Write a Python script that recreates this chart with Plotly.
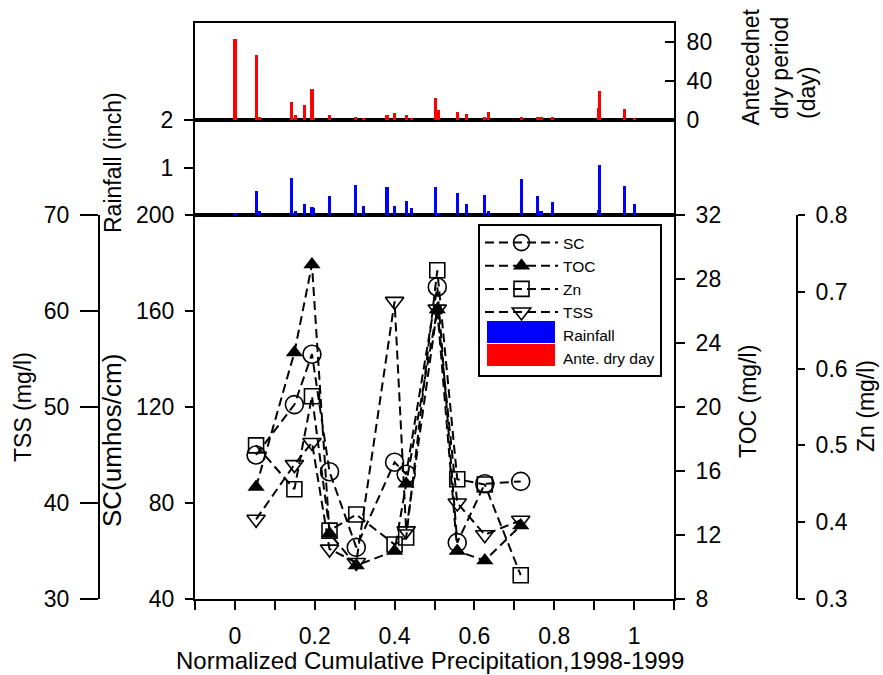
import plotly.graph_objects as go

# ---------------- data ----------------
# water-quality samples (x = normalized cumulative precipitation)
sample_x = [0.053, 0.149, 0.193, 0.237, 0.304, 0.400, 0.429, 0.507, 0.557, 0.626, 0.716]
sc_vals = [100, 121, 142, 93, 61.5, 97, 92, 170, 63.5, 88, 89]
toc_vals = [15.0, 23.4, 28.9, 12.1, 10.1, 11.0, 15.2, 26.1, 11.0, 10.4, 12.6]
zn_vals = [0.500, 0.443, 0.564, 0.389, 0.410, 0.371, 0.380, 0.728, 0.456, 0.449, 0.331]
tss_vals = [38.3, 44.0, 46.3, 35.2, 33.8, 61.0, 37.1, 60.2, 40.0, 36.7, 38.2]

# storm events
event_x = [0.000, 0.054, 0.062, 0.142, 0.151, 0.175, 0.193, 0.197, 0.237, 0.303, 0.322,
           0.381, 0.400, 0.429, 0.443, 0.503, 0.509, 0.557, 0.580, 0.625, 0.635,
           0.717, 0.759, 0.767, 0.796, 0.911, 0.914, 0.975, 1.001]
rain_vals = [0.03, 0.50, 0.09, 0.77, 0.08, 0.23, 0.17, 0.14, 0.39, 0.63, 0.19,
             0.59, 0.19, 0.29, 0.14, 0.59, 0.05, 0.46, 0.23, 0.43, 0.08,
             0.75, 0.41, 0.09, 0.28, 0.10, 1.06, 0.61, 0.24]
dry_vals = [84, 67, 3.5, 19, 5, 15, 32, 2, 5, 3, 2,
            5.5, 7, 5, 2, 23, 10, 8, 6.5, 3, 8,
            3, 3, 3, 3, 12, 30, 11.5, 2]

x_tick_vals = [-0.1, 0, 0.1, 0.2, 0.3, 0.4, 0.5, 0.6, 0.7, 0.8, 0.9, 1.0, 1.1]
x_tick_text = ["", "0", "", "0.2", "", "0.4", "", "0.6", "", "0.8", "", "1", ""]
sc_ticks = [40, 80, 120, 160, 200]
tss_ticks = [30, 40, 50, 60, 70]
toc_ticks = [8, 12, 16, 20, 24, 28, 32]
zn_ticks = [0.3, 0.4, 0.5, 0.6, 0.7, 0.8]
rain_ticks = [1, 2]
dry_ticks = [0, 40, 80]

# ---------------- layout helpers ----------------
W, H = 883, 675
def px(x):
    return x / W
def py(y):
    return 1 - y / H

FONT = "Liberation Sans, Arial, sans-serif"
TF = 23
LW = 2
RAIN_COLOR = "#0000ff"
DRY_COLOR = "#ff0000"

x_dom = [px(195), px(674)]
main_dom = [py(599), py(215)]
rain_dom = [py(215), py(120)]
dry_dom = [py(120), py(23)]

fig = go.Figure()

dash = "9px,5px"
common_line = dict(color="black", width=2, dash=dash)

fig.add_trace(go.Scatter(x=sample_x, y=sc_vals, name="SC", mode="lines+markers",
                         xaxis="x", yaxis="y", line=common_line,
                         marker=dict(symbol="circle-open", size=18, color="black",
                                     line=dict(width=1.6, color="black"))))
fig.add_trace(go.Scatter(x=sample_x, y=toc_vals, name="TOC", mode="lines+markers",
                         xaxis="x", yaxis="y3", line=common_line,
                         marker=dict(symbol="triangle-up", size=15, color="black")))
fig.add_trace(go.Scatter(x=sample_x, y=zn_vals, name="Zn", mode="lines+markers",
                         xaxis="x", yaxis="y4", line=common_line,
                         marker=dict(symbol="square-open", size=15, color="black",
                                     line=dict(width=1.6, color="black"))))
fig.add_trace(go.Scatter(x=sample_x, y=tss_vals, name="TSS", mode="lines+markers",
                         xaxis="x", yaxis="y2", line=common_line,
                         marker=dict(symbol="triangle-down-open", size=16, color="black",
                                     line=dict(width=1.6, color="black"))))

fig.add_trace(go.Bar(x=event_x, y=rain_vals, name="Rainfall", xaxis="x2", yaxis="y5",
                     width=0.008, marker=dict(color=RAIN_COLOR, line=dict(width=0))))
fig.add_trace(go.Bar(x=event_x, y=dry_vals, name="Ante. dry day", xaxis="x3", yaxis="y6",
                     width=0.008, marker=dict(color=DRY_COLOR, line=dict(width=0))))

axis_common = dict(showline=True, linecolor="black", linewidth=LW, ticks="outside",
                   tickcolor="black", tickwidth=LW, showgrid=False, zeroline=False,
                   tickfont=dict(family=FONT, size=TF, color="black"),
                   ticklabelstandoff=6, automargin=False)

fig.update_layout(
    width=W, height=H,
    margin=dict(l=0, r=0, t=0, b=0, pad=0, autoexpand=False),
    paper_bgcolor="white", plot_bgcolor="rgba(0,0,0,0)",
    showlegend=True,
    bargap=0,
    xaxis=dict(domain=x_dom, anchor="y", range=[-0.1, 1.1], tickvals=x_tick_vals,
               ticktext=x_tick_text, ticklen=9, mirror=True, **axis_common),
    xaxis2=dict(domain=x_dom, anchor="y5", matches="x", range=[-0.1, 1.1],
                showticklabels=False, ticks="", showline=True, mirror=True,
                linecolor="black", linewidth=LW, showgrid=False, zeroline=False),
    xaxis3=dict(domain=x_dom, anchor="y6", matches="x", range=[-0.1, 1.1],
                showticklabels=False, ticks="", showline=True, mirror=True,
                linecolor="black", linewidth=LW, showgrid=False, zeroline=False),
    yaxis=dict(domain=main_dom, anchor="x", range=[40, 200], tickvals=sc_ticks,
               ticklen=8, **axis_common),
    yaxis2=dict(overlaying="y", anchor="free", position=px(99), side="left",
                range=[30, 70], tickvals=tss_ticks, ticklen=18, **axis_common),
    yaxis3=dict(overlaying="y", anchor="x", side="right", range=[8, 32],
                tickvals=toc_ticks, ticklen=9, **axis_common),
    yaxis4=dict(overlaying="y", anchor="free", position=px(797), side="right",
                range=[0.3, 0.8], tickvals=zn_ticks, ticklen=7, **axis_common),
    yaxis5=dict(domain=rain_dom, anchor="x2", range=[0, 2], tickvals=rain_ticks,
                ticklen=9, mirror=True, **axis_common),
    yaxis6=dict(domain=dry_dom, anchor="x3", side="right", range=[0, 100],
                tickvals=dry_ticks, ticklen=9, mirror=True,
                **{**axis_common, "ticks": "inside"}),
    legend=dict(x=px(478), y=py(224), xanchor="left", yanchor="top",
                bgcolor="rgba(0,0,0,0)", bordercolor="black", borderwidth=2,
                font=dict(family=FONT, size=15.5, color="black"),
                traceorder="normal", itemwidth=73, tracegroupgap=0),
)

# wide colour swatches for the bar entries of the legend (legend decoration)
for (y0, y1, col) in [(321, 343, RAIN_COLOR), (344, 366, DRY_COLOR)]:
    fig.add_shape(type="rect", xref="paper", yref="paper",
                  x0=px(487), x1=px(555), y0=py(y1), y1=py(y0),
                  fillcolor=col, line=dict(width=0), layer="above")

def title(text, x, y, angle=-90, size=TF, xanchor="center", yanchor="middle"):
    fig.add_annotation(text=text, x=px(x), y=py(y), xref="paper", yref="paper",
                       showarrow=False, textangle=angle, xanchor=xanchor, yanchor=yanchor,
                       font=dict(family=FONT, size=size, color="black"))

title("Normalized Cumulative Precipitation,1998-1999", 430, 660, angle=0, size=24)
title("TSS (mg/l)", 23, 407, size=23)
title("SC(umhos/cm)", 112, 440, size=26)
title("Rainfall (inch)", 113, 163, size=23)
title("TOC (mg/l)", 748, 402)
title("Zn (mg/l)", 866, 406, size=23)
title("Antecednet", 751, 128, yanchor="bottom")
title("dry period", 780, 121, yanchor="bottom")
title("(day)", 807, 121, yanchor="bottom")

fig.write_html("out.html")
